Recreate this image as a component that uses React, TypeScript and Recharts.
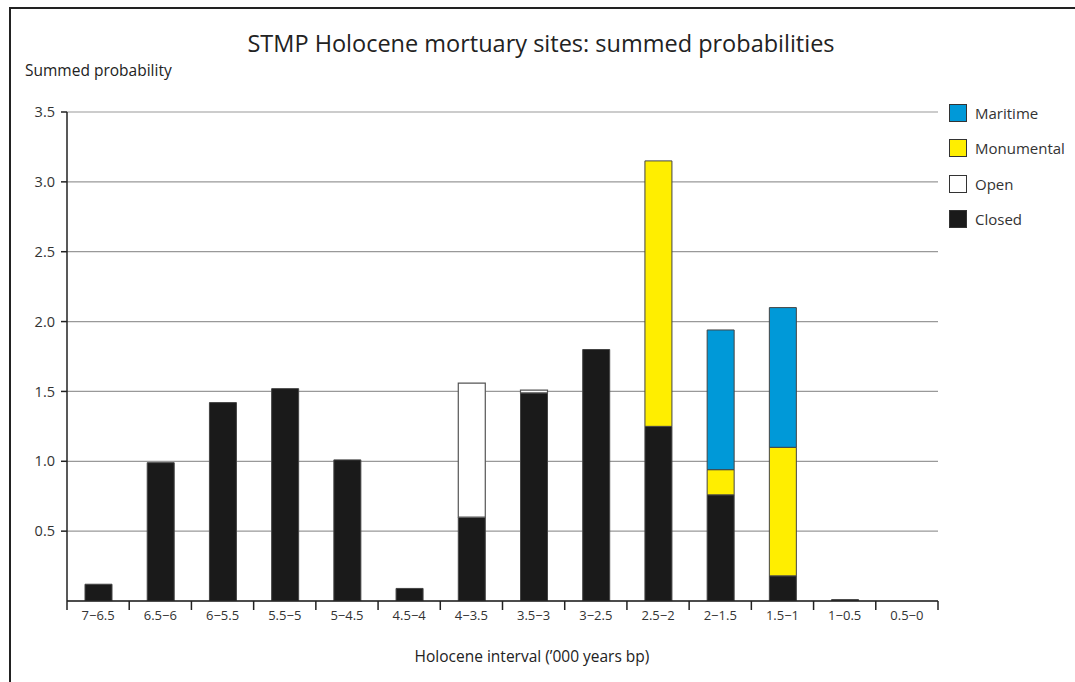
import { BarChart, Bar, XAxis, YAxis, CartesianGrid } from "recharts";

const categories = [
  "7−6.5", "6.5−6", "6−5.5", "5.5−5", "5−4.5", "4.5−4", "4−3.5",
  "3.5−3", "3−2.5", "2.5−2", "2−1.5", "1.5−1", "1−0.5", "0.5−0",
];
const closed = [0.12, 0.99, 1.42, 1.52, 1.01, 0.09, 0.6, 1.49, 1.8, 1.25, 0.76, 0.18, 0.01, 0];
const open = [0, 0, 0, 0, 0, 0, 0.96, 0.02, 0, 0, 0, 0, 0, 0];
const monumental = [0, 0, 0, 0, 0, 0, 0, 0, 0, 1.9, 0.18, 0.92, 0, 0];
const maritime = [0, 0, 0, 0, 0, 0, 0, 0, 0, 0, 1.0, 1.0, 0, 0];
const yTicks = [0.5, 1, 1.5, 2, 2.5, 3, 3.5];

const legendItems = [
  { name: "Maritime", color: "#0099d8" },
  { name: "Monumental", color: "#ffee00" },
  { name: "Open", color: "#ffffff" },
  { name: "Closed", color: "#1a1a1a" },
];

const data = categories.map((name, i) => ({
  name,
  closed: closed[i],
  open: open[i],
  monumental: monumental[i],
  maritime: maritime[i],
}));

const FONT = "'Open Sans', 'Noto Sans', sans-serif";
const PLOT_LEFT = 67;
const PLOT_RIGHT = 938;
const STEP = (PLOT_RIGHT - PLOT_LEFT) / categories.length;

// label in the middle of the band, tick marks on the band edges
function XTick(props: any) {
  const { x, y, payload, index } = props;
  const left = x - STEP / 2;
  const last = index === categories.length - 1;
  return (
    <g>
      <line x1={left} y1={y - 8} x2={left} y2={y + 1} stroke="#222" strokeWidth={1.5} />
      {last && (
        <line x1={left + STEP} y1={y - 8} x2={left + STEP} y2={y + 1} stroke="#222" strokeWidth={1.5} />
      )}
      <text x={x} y={y + 11} textAnchor="middle" fontSize={13} fill="#333" fontFamily={FONT}>
        {payload.value}
      </text>
    </g>
  );
}

function LegendBox() {
  return (
    <div style={{ position: "absolute", left: 949, top: 95, fontFamily: FONT, fontSize: 15, color: "#333" }}>
      {legendItems.map((it) => (
        <div key={it.name} style={{ display: "flex", alignItems: "center", height: 35.5 }}>
          <span
            style={{
              width: 16,
              height: 16,
              background: it.color,
              border: "1px solid #333",
              marginRight: 8,
              display: "inline-block",
            }}
          />
          {it.name}
        </div>
      ))}
    </div>
  );
}

export default function App() {
  return (
    <div style={{ position: "absolute", left: 0, top: 0, width: 1075, height: 682, background: "#fff", overflow: "hidden" }}>
      <div
        style={{
          position: "absolute",
          left: 9,
          top: 7,
          width: 1100,
          height: 700,
          borderLeft: "2.5px solid #222",
          borderTop: "2.5px solid #222",
        }}
      />
      <div style={{ position: "absolute", left: 0, width: 1082, top: 27, textAlign: "center", fontFamily: FONT, fontSize: 23.5, color: "#222" }}>
        STMP Holocene mortuary sites: summed probabilities
      </div>
      <div style={{ position: "absolute", left: 25, top: 59, fontFamily: FONT, fontSize: 15.5, color: "#222" }}>
        Summed probability
      </div>
      <div style={{ position: "absolute", left: 0, width: 1064, top: 645, textAlign: "center", fontFamily: FONT, fontSize: 15.5, color: "#222" }}>
        Holocene interval (’000 years bp)
      </div>
      <BarChart
        width={1075}
        height={682}
        data={data}
        margin={{ top: 112, right: 1075 - PLOT_RIGHT, left: 7, bottom: 51 }}
        barSize={27}
        style={{ position: "absolute", left: 0, top: 0 }}
      >
        <CartesianGrid vertical={false} stroke="#999" strokeWidth={1.2} />
        <XAxis
          dataKey="name"
          height={30}
          axisLine={{ stroke: "#222", strokeWidth: 1.5 }}
          tickLine={false}
          tick={<XTick />}
          interval={0}
        />
        <YAxis
          width={60}
          domain={[0, 3.5]}
          ticks={yTicks}
          allowDataOverflow
          axisLine={{ stroke: "#222", strokeWidth: 1.5 }}
          tickLine={{ stroke: "#222", strokeWidth: 1.5 }}
          tickSize={6}
          tickMargin={6}
          tickFormatter={(v: number) => v.toFixed(1)}
          tick={{ fontSize: 14.5, fill: "#333", fontFamily: FONT }}
        />
        <Bar dataKey="closed" name="Closed" stackId="a" fill="#1a1a1a" stroke="#444" strokeWidth={1} isAnimationActive={false} />
        <Bar dataKey="open" name="Open" stackId="a" fill="#ffffff" stroke="#555" strokeWidth={1.2} isAnimationActive={false} />
        <Bar dataKey="monumental" name="Monumental" stackId="a" fill="#ffee00" stroke="#444" strokeWidth={1} isAnimationActive={false} />
        <Bar dataKey="maritime" name="Maritime" stackId="a" fill="#0099d8" stroke="#444" strokeWidth={1} isAnimationActive={false} />
      </BarChart>
      <LegendBox />
    </div>
  );
}
